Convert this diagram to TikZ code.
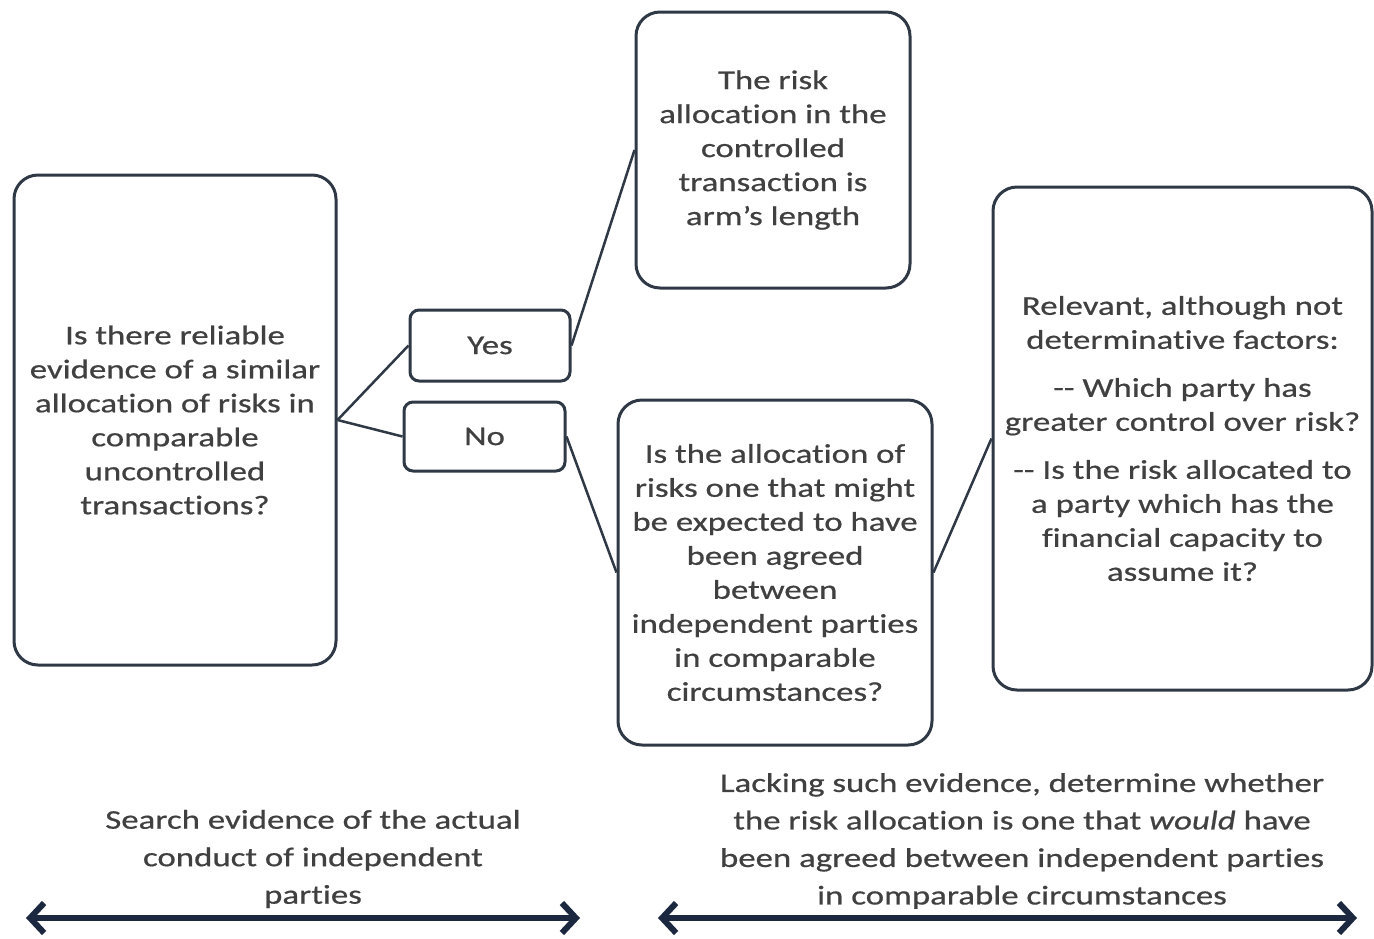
\documentclass[tikz,border=0pt]{standalone}
\usepackage{fontspec}
\setmainfont{Carlito}[FakeStretch=1.29, FakeBold=0.6, Ligatures={NoCommon}]
\usetikzlibrary{arrows.meta}
\definecolor{boxline}{HTML}{2F3845}
\definecolor{txt}{HTML}{404040}
\definecolor{arrowc}{HTML}{1B2840}
\tikzset{
  box/.style={draw=boxline, line width=3pt, rounded corners=24pt, fill=white, align=center, text=txt, inner sep=0pt,
    font=\fontsize{27}{34}\selectfont},
  small/.style={box, rounded corners=9pt},
  conn/.style={draw=boxline, line width=2.5pt},
  captext/.style={align=center, text=txt, font=\fontsize{27}{37.5}\selectfont},
  span/.style={draw=arrowc, line width=6pt, {Straight Barb[length=14pt,width=30pt,line width=6pt]}-{Straight Barb[length=14pt,width=30pt,line width=6pt]}}
}
\begin{document}
\begin{tikzpicture}[x=1pt,y=-1pt]
\useasboundingbox (0,0) rectangle (1374,938);
\node[box, minimum width=322pt, minimum height=490pt] (q1) at (175,420)
  {Is there reliable\\evidence of a similar\\allocation of risks in\\comparable\\uncontrolled\\transactions?};
\node[small, minimum width=160pt, minimum height=71pt] (yes) at (490,345.5) {Yes};
\node[small, minimum width=161pt, minimum height=69pt] (no) at (484.5,436.5) {No};
\node[box, minimum width=274pt, minimum height=276pt] (arm) at (773,150)
  {The risk\\allocation in the\\controlled\\transaction is\\arm's length};
\node[box, minimum width=314pt, minimum height=345pt] (q2) at (775,572.5)
  {Is the allocation of\\risks one that might\\be expected to have\\been agreed\\between\\independent parties\\in comparable\\circumstances?};
\node[box, minimum width=379pt, minimum height=503pt] (fac) at (1182.5,438.5)
  {Relevant, although not\\determinative factors:\\[14pt]-{}- Which party has\\greater control over risk?\\[14pt]-{}- Is the risk allocated to\\a party which has the\\financial capacity to\\assume it?};
\draw[conn] (q1.east) -- (yes.west);
\draw[conn] (q1.east) -- (no.west);
\draw[conn] (yes.east) -- (arm.west);
\draw[conn] (no.east) -- (q2.west);
\draw[conn] (q2.east) -- (fac.west);
\node[captext] (c1) at (313,859) {Search evidence of the actual\\conduct of independent\\parties};
\node[captext] (c2) at (1022,841) {Lacking such evidence, determine whether\\the risk allocation is one that \textit{would} have\\been agreed between independent parties\\in comparable circumstances};
\coordinate (a1) at (26,918);
\coordinate (a2) at (580,918);
\coordinate (b1) at (658,918);
\coordinate (b2) at (1357,918);
\draw[span] (a1) -- (a2);
\draw[span] (b1) -- (b2);
\end{tikzpicture}
\end{document}
